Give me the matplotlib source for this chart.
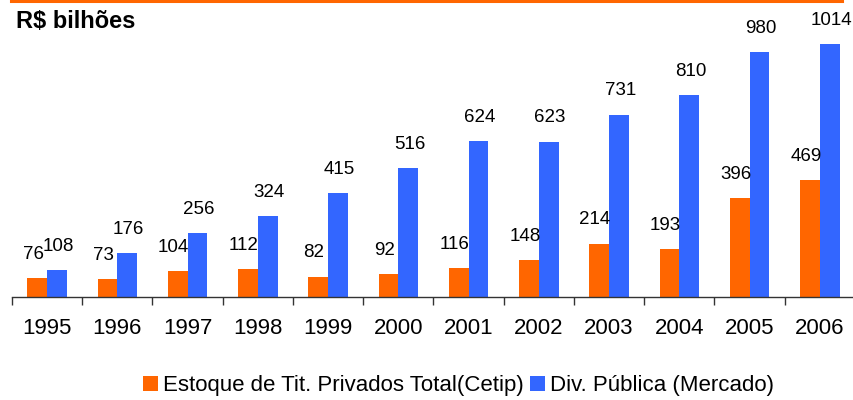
import matplotlib
matplotlib.use("Agg")
import matplotlib.pyplot as plt
from matplotlib.lines import Line2D
import numpy as np

plt.rcParams['font.family'] = ['Liberation Sans', 'DejaVu Sans']

# dados
anos = ["1995", "1996", "1997", "1998", "1999", "2000",
        "2001", "2002", "2003", "2004", "2005", "2006"]
privados = [76, 73, 104, 112, 82, 92, 116, 148, 214, 193, 396, 469]
div_publica = [108, 176, 256, 324, 415, 516, 624, 623, 731, 810, 980, 1014]

LARANJA = "#FF6600"
AZUL = "#3366FF"

fig = plt.figure(figsize=(8.54, 4.0), dpi=100)
ax = fig.add_axes([12 / 854, 103 / 400, 843 / 854, 274 / 400])

x = np.arange(len(anos))
w = 0.28
b1 = ax.bar(x - w / 2, privados, w, color=LARANJA, label="Estoque de Tit. Privados Total(Cetip)")
b2 = ax.bar(x + w / 2, div_publica, w, color=AZUL, label="Div. Pública (Mercado)")

# rótulos: laranja um pouco à esquerda, azul um pouco à direita
for bars, dx in ((b1, -3), (b2, 1)):
    for r in bars:
        ax.annotate(f"{int(r.get_height())}", (r.get_x() + r.get_width() / 2, r.get_height()),
                    xytext=(dx, 11), textcoords="offset points",
                    ha="center", va="bottom", fontsize=13.5)

ax.set_xlim(-0.5, len(anos) - 0.5)
ax.set_ylim(0, 1098)

for s in ("top", "right", "left"):
    ax.spines[s].set_visible(False)
ax.spines["bottom"].set_color("#333333")
ax.spines["bottom"].set_linewidth(1.0)
ax.set_yticks([])

ax.set_xticks(x)
ax.set_xticklabels(anos, fontsize=16)
ax.tick_params(axis="x", which="major", length=0, pad=15)
ax.set_xticks(np.arange(-0.5, len(anos), 1.0), minor=True)
ax.tick_params(axis="x", which="minor", length=6, width=1.0, color="#333333")

# linha laranja no topo
fig.add_artist(Line2D([11 / 854, 842 / 854], [0.997, 0.997], color=LARANJA, lw=2.2))

fig.text(16 / 854, 1 - 22 / 400, "R$ bilhões", fontsize=17, fontweight="bold",
         va="center", ha="left")

fig.legend(loc="center", bbox_to_anchor=(0.537, 1 - 386 / 400), ncol=2, frameon=False,
           fontsize=16, handlelength=0.68, handleheight=0.68, handletextpad=0.2,
           columnspacing=0.3)

fig.savefig("out.png", dpi=100)
